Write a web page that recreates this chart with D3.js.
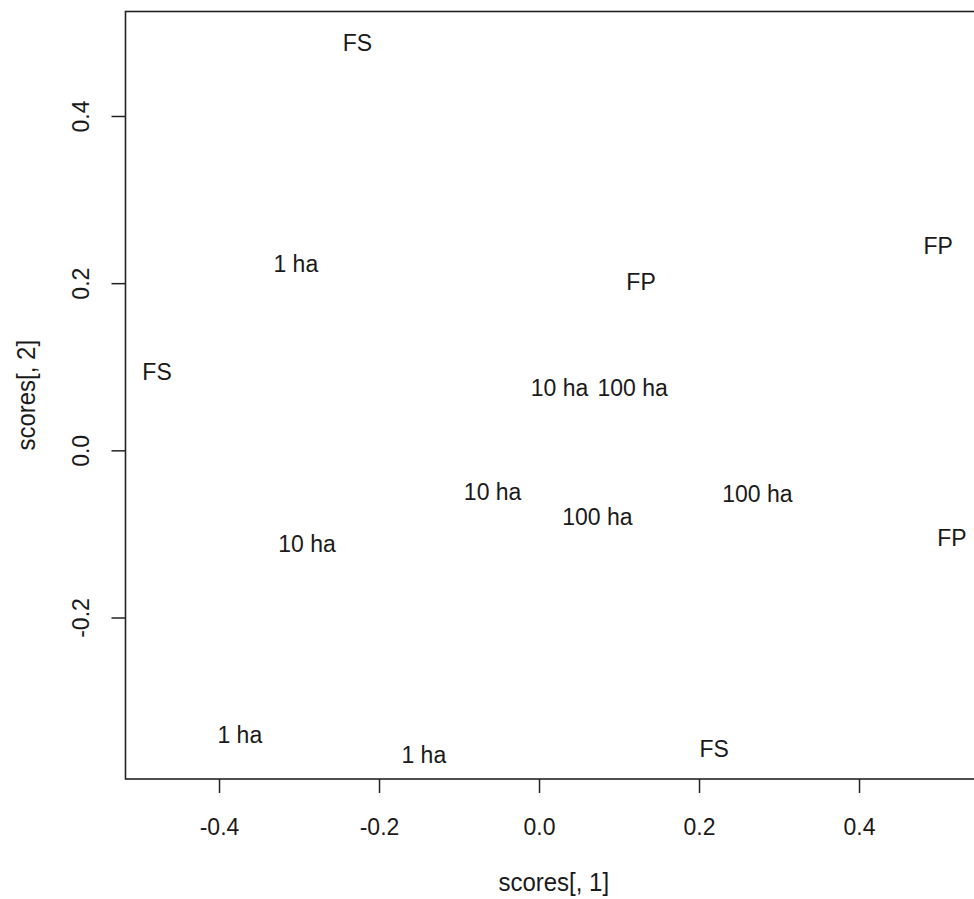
<!DOCTYPE html>
<html>
<head>
<meta charset="utf-8">
<script src="https://cdn.jsdelivr.net/npm/d3@7"></script>
<style>
  body { margin: 0; background: #fff; }
  text { font-family: "Liberation Sans", Arial, sans-serif; fill: #1a1a1a; }
</style>
</head>
<body>
<div id="chart"></div>
<script>
// point labels placed at their (scores[,1], scores[,2]) position
var labels = ["FS", "1 ha", "FS", "FP", "FP", "10 ha", "100 ha", "10 ha", "100 ha",
  "100 ha", "FP", "10 ha", "1 ha", "1 ha", "FS"]
var score1 = [-0.227, -0.304, -0.4775, 0.1275, 0.499, 0.0256, 0.117, -0.058, 0.073,
  0.273, 0.516, -0.29, -0.374, -0.144, 0.219]
var score2 = [0.488, 0.224, 0.0946, 0.202, 0.2455, 0.076, 0.076, -0.049, -0.079,
  -0.051, -0.104, -0.111, -0.3395, -0.3635, -0.356]

var xTicks = [-0.4, -0.2, 0.0, 0.2, 0.4]
var yTicks = [-0.2, 0.0, 0.2, 0.4]

var width = 974, height = 899
var mLeft = 125.5, mTop = 11.5, mRight = 982, mBottom = 779
var fontSize = 23
var stretch = 'scale(1,1.08)'
var fmt = d => d3.format('.1f')(d).replace('−', '-')

var svg = d3.select('#chart').append('svg')
  .attr('width', width)
  .attr('height', height)

var xMap = d3.scaleLinear()
  .domain([-0.5169, -0.5169 + (mRight - mLeft) / 800])
  .range([mLeft, mRight])

var yMap = d3.scaleLinear()
  .domain([-0.3932, 0.525])
  .range([mBottom, mTop])

// points as text
svg.append('g').selectAll('text')
  .data(labels)
  .enter().append('text')
  .attr('transform', (d, i) => 'translate(' + [xMap(score1[i]), yMap(score2[i])] + ') ' + stretch)
  .attr('dy', '0.36em')
  .style('text-anchor', 'middle')
  .style('font-size', fontSize + 'px')
  .text(d => d)

// axes
var xAxis = d3.axisBottom(xMap)
  .tickValues(xTicks)
  .tickFormat(fmt)
  .tickSize(14)
  .tickSizeOuter(0)

var gX = svg.append('g')
  .attr('transform', 'translate(' + [0, mBottom] + ')')
  .call(xAxis)
gX.select('.domain').remove()
gX.selectAll('.tick line').attr('stroke', '#222').attr('stroke-width', 1.5)
gX.selectAll('.tick text')
  .attr('y', 0)
  .attr('dy', '0.36em')
  .attr('transform', 'translate(0,47) ' + stretch)
  .style('font-size', fontSize + 'px')
  .attr('font-family', null)
  .attr('font-size', null)
  .attr('fill', null)

var yAxis = d3.axisLeft(yMap)
  .tickValues(yTicks)
  .tickFormat(fmt)
  .tickSize(14)
  .tickSizeOuter(0)

var gY = svg.append('g')
  .attr('transform', 'translate(' + [mLeft, 0] + ')')
  .call(yAxis)
gY.select('.domain').remove()
gY.selectAll('.tick line').attr('stroke', '#222').attr('stroke-width', 1.5)
gY.selectAll('.tick text')
  .attr('x', 0)
  .attr('dy', '0.36em')
  .attr('transform', 'translate(-45,0) rotate(-90) ' + stretch)
  .style('text-anchor', 'middle')
  .style('font-size', fontSize + 'px')
  .attr('font-family', null)
  .attr('font-size', null)
  .attr('fill', null)

// box
svg.append('rect')
  .attr('x', mLeft)
  .attr('y', mTop)
  .attr('width', mRight - mLeft)
  .attr('height', mBottom - mTop)
  .style('fill', 'none')
  .style('stroke', '#222')
  .style('stroke-width', 1.6)

// axis titles
svg.append('text')
  .attr('transform', 'translate(' + [(mLeft + mRight) / 2, 882] + ') ' + stretch)
  .attr('dy', '0.36em')
  .style('text-anchor', 'middle')
  .style('font-size', '24px')
  .text('scores[, 1]')

svg.append('text')
  .attr('transform', 'translate(' + [26, (mTop + mBottom) / 2] + ') rotate(-90) ' + stretch)
  .attr('dy', '0.36em')
  .style('text-anchor', 'middle')
  .style('font-size', '24px')
  .text('scores[, 2]')
</script>
</body>
</html>
